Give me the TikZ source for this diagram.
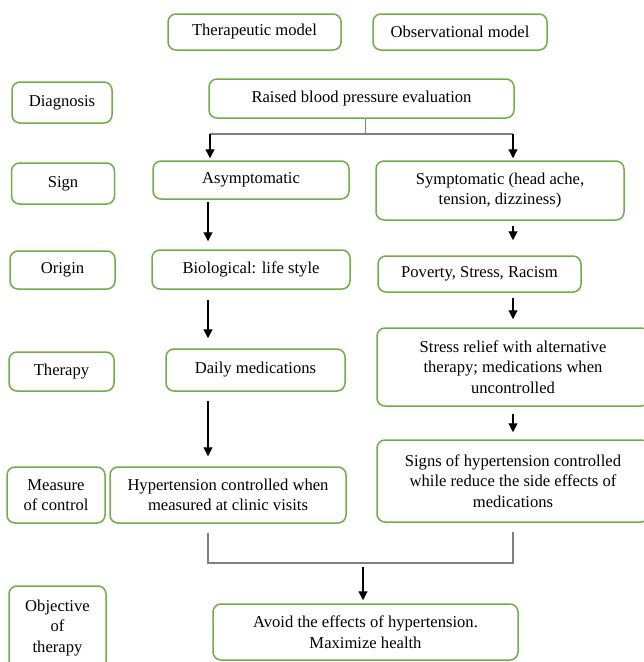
\documentclass[tikz,border=0pt]{standalone}
\usepackage{fontspec}
\setmainfont{Liberation Serif}
\usepackage{xcolor}
\definecolor{boxGreen}{HTML}{70AD47}
\definecolor{linkGray}{HTML}{808080}
\usetikzlibrary{arrows.meta}

\begin{document}
\begin{tikzpicture}[x=1pt, y=-1pt, >={Triangle[length=9pt,width=9pt]},
  box/.style={draw=boxGreen, line width=1.5pt, rounded corners=8pt, align=center,
    inner sep=0pt, font=\fontsize{16.6}{20.5}\selectfont},
  link/.style={linkGray, line width=1.4pt},
  arr/.style={->, line width=1.2pt}]
  \useasboundingbox (0,0) rectangle (644,662);
  \clip (0,0) rectangle (644,662);
  % model headings
  \node[box, minimum width=173pt, minimum height=36pt] (thmod) at (254.5,32) {Therapeutic model};
  \node[box, minimum width=174pt, minimum height=36pt] (obmod) at (460,32) {Observational model};
  % row labels
  \node[box, minimum width=100pt, minimum height=41pt] (diag) at (62,102.5) {Diagnosis};
  \node[box, minimum width=103pt, minimum height=41pt] (sign) at (63,183.5) {Sign};
  \node[box, minimum width=105pt, minimum height=38pt] (origin) at (62.5,270) {Origin};
  \node[box, minimum width=105pt, minimum height=39pt] (therapy) at (61.5,371.5) {Therapy};
  \node[box, minimum width=98pt, minimum height=56pt] (measure) at (56,495) {Measure\\ of control};
  \node[box, minimum width=97pt, minimum height=84pt] (objective) at (57.5,628) {Objective\\ of\\ therapy};
  % diagnosis
  \node[box, minimum width=305pt, minimum height=39pt] (raised) at (361.5,98.5) {Raised blood pressure evaluation};
  % therapeutic column
  \node[box, minimum width=196pt, minimum height=38pt] (asym) at (251,180) {Asymptomatic};
  \node[box, minimum width=198pt, minimum height=39pt] (bio) at (251,269.5) {Biological: life style};
  \node[box, minimum width=179pt, minimum height=42pt] (daily) at (255.5,370) {Daily medications};
  \node[box, minimum width=236pt, minimum height=56pt] (hyper) at (228,495) {Hypertension controlled when\\ measured at clinic visits};
  % observational column
  \node[box, minimum width=248pt, minimum height=59pt] (sympt) at (500,190.5) {Symptomatic (head ache,\\ tension, dizziness)};
  \node[box, minimum width=203pt, minimum height=36pt] (pov) at (479.5,274) {Poverty, Stress, Racism};
  \node[box, minimum width=272pt, minimum height=78pt] (relief) at (513,367) {Stress relief with alternative\\ therapy; medications when\\ uncontrolled};
  \node[box, minimum width=272pt, minimum height=82pt] (signs) at (513,481) {Signs of hypertension controlled\\ while reduce the side effects of\\ medications};
  % objective
  \node[box, minimum width=305pt, minimum height=56pt] (avoid) at (365.5,632) {Avoid the effects of hypertension.\\ Maximize health};
  % column lines
  \coordinate (lcol) at (208,0);
  \coordinate (rcol) at (513,0);
  \coordinate (splitL) at (210,134);
  \coordinate (splitR) at (513,134);
  \coordinate (join) at (363,563);
  % split below diagnosis
  \draw[link] ([xshift=4pt]raised.south) |- (splitL);
  \draw[link] ([xshift=4pt]raised.south) |- (splitR);
  \draw[arr, shorten >=2pt] (splitL) -- (splitL |- asym.north);
  \draw[arr, shorten >=2pt] (splitR) -- (splitR |- sympt.north);
  % therapeutic arrows
  \draw[arr, shorten <=2pt, shorten >=8pt] (lcol |- asym.south) -- (lcol |- bio.north);
  \draw[arr, shorten <=10pt, shorten >=10pt] (lcol |- bio.south) -- (lcol |- daily.north);
  \draw[arr, shorten <=9pt, shorten >=10pt] (lcol |- daily.south) -- (lcol |- hyper.north);
  % observational arrows
  \draw[arr, shorten <=5pt, shorten >=15pt] (rcol |- sympt.south) -- (rcol |- pov.north);
  \draw[arr, shorten <=5pt, shorten >=8pt] (rcol |- pov.south) -- (rcol |- relief.north);
  \draw[arr, shorten <=7pt, shorten >=7pt] (rcol |- relief.south) -- (rcol |- signs.north);
  % join to objective
  \draw[link, shorten <=9pt, shorten >=9pt] (lcol |- hyper.south) |- (join) -| (rcol |- signs.south);
  \draw[arr, shorten <=4pt, shorten >=3pt] (join) -- (join |- avoid.north);
\end{tikzpicture}
\end{document}
